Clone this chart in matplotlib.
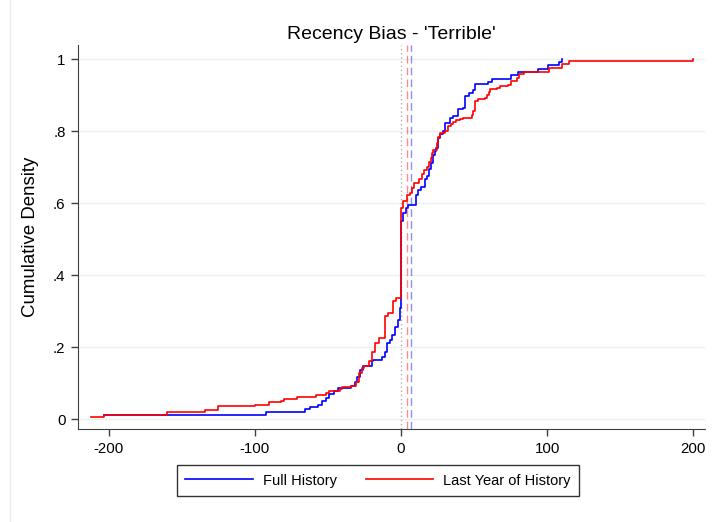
import matplotlib
matplotlib.use('Agg')
import matplotlib.pyplot as plt
from matplotlib.lines import Line2D

plt.rcParams['font.family'] = ['Liberation Sans', 'DejaVu Sans']

# Datos (escalones de la distribucion acumulada)
full_x = [-203, -92.5, -66, -62, -57, -54, -51, -49, -46, -43,
          -34.5, -31.5, -30, -28, -26, -23.5, -20, -19, -13, -11,
          -9.8, -7.5, -6.4, -4.1, -1.8, -0.7, 0, 1.1, 3.4, 5,
          10.3, 11.8, 14, 16.4, 18, 19.4, 20.3, 21.7, 23.3, 24.2,
          25.6, 26.7, 29, 30.1, 33.6, 35.8, 39.2, 42.7, 43.8, 46.8,
          49, 50.7, 59.8, 62.1, 75.1, 79.7, 94, 100.9, 108.4, 110]
full_y = [0.010, 0.020, 0.028, 0.033, 0.040, 0.049, 0.058, 0.070, 0.078, 0.085,
          0.092, 0.104, 0.118, 0.135, 0.146, 0.148, 0.160, 0.164, 0.172, 0.187,
          0.210, 0.220, 0.234, 0.257, 0.276, 0.308, 0.550, 0.573, 0.587, 0.596,
          0.622, 0.636, 0.645, 0.668, 0.675, 0.694, 0.712, 0.733, 0.745, 0.754,
          0.782, 0.791, 0.800, 0.824, 0.838, 0.842, 0.861, 0.865, 0.898, 0.907,
          0.914, 0.930, 0.937, 0.944, 0.955, 0.965, 0.972, 0.983, 0.992, 1.000]

last_x = [-212, -203, -160, -134, -125, -100, -90, -82, -80, -71,
          -58, -51, -49, -42, -40.6, -34, -31, -29, -27, -25,
          -21.7, -20, -18, -15, -11, -8.7, -5.3, -3.4, 0, 1.6,
          4.3, 6, 7.3, 8.9, 12.5, 14.2, 16, 17.6, 19.4, 20.3,
          21, 22, 24.4, 25.6, 26.7, 30, 32.4, 34, 35.4, 37.7,
          40.4, 42.7, 48.4, 49.5, 50.7, 53, 57.5, 59.1, 60.5, 61,
          65.5, 67.8, 73.5, 75, 79.2, 81, 83.8, 101, 110, 114.6,
          200]
last_y = [0.005, 0.012, 0.019, 0.024, 0.035, 0.040, 0.046, 0.051, 0.057, 0.062,
          0.068, 0.073, 0.079, 0.084, 0.088, 0.092, 0.104, 0.127, 0.141, 0.148,
          0.160, 0.187, 0.210, 0.225, 0.285, 0.294, 0.327, 0.336, 0.587, 0.605,
          0.624, 0.629, 0.643, 0.656, 0.668, 0.680, 0.692, 0.701, 0.714, 0.726,
          0.740, 0.749, 0.768, 0.785, 0.796, 0.800, 0.814, 0.819, 0.825, 0.830,
          0.835, 0.838, 0.844, 0.856, 0.884, 0.889, 0.893, 0.900, 0.909, 0.918,
          0.921, 0.926, 0.928, 0.940, 0.949, 0.958, 0.965, 0.977, 0.986, 0.995,
          1.000]

# medias de cada serie
full_mean = 6.6
last_mean = 3.9

x_ticks = [-200, -100, 0, 100, 200]
y_ticks = [0, 0.2, 0.4, 0.6, 0.8, 1]
y_labels = ['0', '.2', '.4', '.6', '.8', '1']

fig = plt.figure(figsize=(7.12, 5.22), dpi=100)
ax = fig.add_axes([0.1096, 0.178, 0.8806, 0.736])

# lineas horizontales de la rejilla
for yt in y_ticks:
    ax.axhline(yt, color='#e8f0f2', linewidth=1, zorder=0)

# lineas verticales: cero y medias
ax.axvline(0, color='#b0b0b0', linewidth=1, linestyle=(0, (1, 2)), zorder=1)
ax.axvline(last_mean, color='#ff0000', alpha=0.45, linewidth=1, dashes=(5.5, 3), zorder=1)
ax.axvline(full_mean, color='#0000ff', alpha=0.45, linewidth=1, dashes=(5.5, 3), zorder=1)

ax.step(full_x, full_y, where='post', color='#0000ff', linewidth=1.2, zorder=2)
ax.step(last_x, last_y, where='post', color='#ff0000', linewidth=1.2, zorder=3)

ax.set_xlim(-221, 208)
ax.set_ylim(-0.028, 1.04)
ax.set_xticks(x_ticks)
ax.set_xticklabels([str(t) for t in x_ticks])
ax.set_yticks(y_ticks)
ax.set_yticklabels(y_labels)
ax.tick_params(axis='both', direction='out', length=5, width=1, color='#404040',
               labelsize=10.8, labelcolor='black', pad=4)

ax.spines['top'].set_visible(False)
ax.spines['right'].set_visible(False)
ax.spines['left'].set_color('#404040')
ax.spines['bottom'].set_color('#404040')

ax.set_title("Recency Bias - 'Terrible'", fontsize=14, pad=4)
ax.set_ylabel('Cumulative Density', fontsize=13.4, labelpad=10)

# leyenda abajo con caja negra
handles = [Line2D([], [], color='#0000ff', linewidth=1.2),
           Line2D([], [], color='#ff0000', linewidth=1.2)]
leg = fig.legend(handles, ['Full History', 'Last Year of History'], ncol=2,
                 loc='center', bbox_to_anchor=(0.531, 0.0795), fontsize=10.5,
                 frameon=True, fancybox=False, edgecolor='black',
                 handlelength=4.6, handletextpad=0.7, columnspacing=2.0,
                 borderpad=0.6)
leg.get_frame().set_linewidth(1)

# borde tenue a la izquierda del grafico
fig.add_artist(Line2D([10 / 712, 10 / 712], [0, 1], color='#e6eef0', linewidth=1))

fig.savefig('out.png', dpi=100)
